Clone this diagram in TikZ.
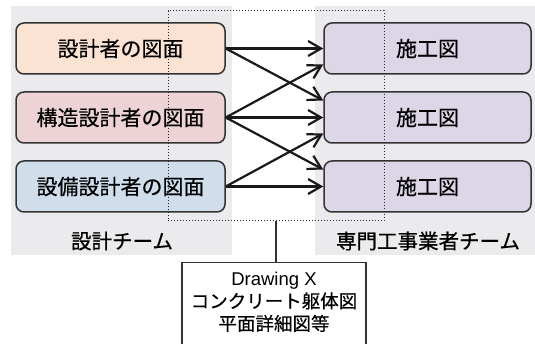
\documentclass[tikz,border=0pt]{standalone}
\usepackage{fontspec}
\setmainfont[FakeBold=0.5]{Noto Sans CJK JP}
\newfontfamily\latinsans{Liberation Sans}
\usetikzlibrary{arrows.meta}
\definecolor{panelgray}{HTML}{EBEBED}
\definecolor{peach}{HTML}{FAE3D2}
\definecolor{pinkbox}{HTML}{EDD3D5}
\definecolor{bluebox}{HTML}{D0DDEB}
\definecolor{lavbox}{HTML}{DDD6E6}
\definecolor{edge}{HTML}{333333}
\tikzset{
  panel/.style={fill=panelgray, draw=none},
  docbox/.style={draw=edge, line width=1.5pt, rounded corners=8pt, minimum width=209pt, minimum height=51pt, inner sep=0pt, font=\fontsize{21}{24}\selectfont},
  teamlabel/.style={font=\fontsize{20.5}{24}\selectfont, inner sep=0pt},
  flow/.style={line width=2.2pt, draw=black!90, -{Straight Barb[length=13pt,width=15pt,line width=2.2pt]}},
}
\begin{document}
\begin{tikzpicture}[x=1pt,y=-1pt]
\useasboundingbox (0,0) rectangle (535,344);
% panels
\fill[panel] (11,6) rectangle (232,255);
\fill[panel] (315,6) rectangle (535,255);
% left boxes
\node[docbox, fill=peach]   (d1) at (120.5,48.5)  {設計者の図面};
\node[docbox, fill=pinkbox] (d2) at (120.5,117.5) {構造設計者の図面};
\node[docbox, fill=bluebox] (d3) at (120.5,186.5) {設備設計者の図面};
% right boxes
\node[docbox, fill=lavbox, minimum width=207pt] (c1) at (427.5,48.5)  {施工図};
\node[docbox, fill=lavbox, minimum width=207pt] (c2) at (427.5,117.5) {施工図};
\node[docbox, fill=lavbox, minimum width=207pt] (c3) at (427.5,186.5) {施工図};
% team labels
\node[teamlabel] (tl) at (122,241) {設計チーム};
\node[teamlabel] (tr) at (428,241) {専門工事業者チーム};
% dotted frame
\node[draw=black!85, dotted, line width=1pt, minimum width=216pt, minimum height=210pt, inner sep=0pt] (frame) at (276,116) {};
% arrows
\draw[flow] (d1.east) -- (c1.west);
\draw[flow] (d1.east) -- ([yshift=17pt]c2.west);
\draw[flow] (d2.east) -- ([yshift=-16pt]c1.west);
\draw[flow] (d2.east) -- (c2.west);
\draw[flow] (d2.east) -- ([yshift=17pt]c3.west);
\draw[flow] (d3.east) -- ([yshift=-16pt]c2.west);
\draw[flow] (d3.east) -- (c3.west);
% bottom box
\node[draw=edge, line width=1.5pt, minimum width=184pt, minimum height=100pt, anchor=north, inner sep=0pt] (xbox) at (274,262) {};
\node[align=center, inner sep=0pt, font=\fontsize{18.5}{22.5}\selectfont] (xtext) at (274,302) {{\latinsans Drawing X}\\コンクリート躯体図\\平面詳細図等};
\draw[line width=1.5pt, draw=edge] (frame.south) -- (frame.south |- xbox.north);
\end{tikzpicture}
\end{document}
